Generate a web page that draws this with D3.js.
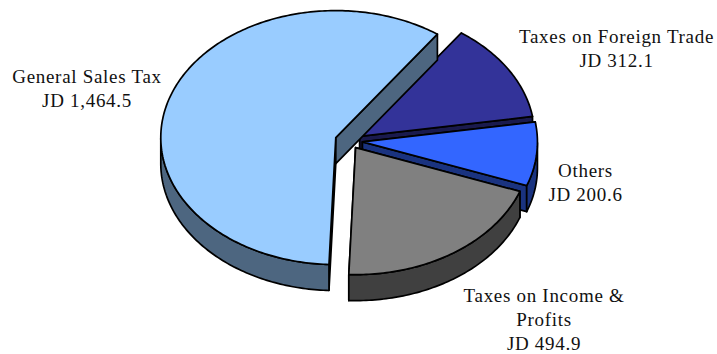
<!DOCTYPE html>
<html><head><meta charset="utf-8">
<style>html,body{margin:0;padding:0;background:#fff}svg{display:block}text{font-family:"Liberation Serif",serif;font-size:19px;letter-spacing:0.7px;fill:#111;text-anchor:middle}</style>
<script src="https://cdn.jsdelivr.net/npm/d3@7/dist/d3.min.js"></script>
</head><body><script>
const categories = ["Taxes on Foreign Trade","Others","Taxes on Income & Profits","General Sales Tax"];
const values = [312.1,200.6,494.9,1464.5];
const topColors = ["#333399","#3366FF","#808080","#99CCFF"];
const wallColors = ["#1A1A4D","#1A3380","#404040","#4D6680"];
const explode = [12,13,11,14.5];
const labelLines = [["Taxes on Foreign Trade"],["Others"],["Taxes on Income &","Profits"],["General Sales Tax"]];
const labelAnchors = [[616.5,43],[585.5,176.5],[544,301.5],[87,82.5]];

const W=717,H=354,cx=349.5,cy=141,rx=175,ry=127,depth=26,lineH=24;
const svg=d3.select("body").append("svg").attr("width",W).attr("height",H);
const pie=d3.pie().sort(null).startAngle(35.5*Math.PI/180).endAngle(395.5*Math.PI/180);
const arcs=pie(values);
const line=d3.line();
const fmt=d3.format(",.1f");
const closed=p=>line(p)+"Z";

arcs.forEach((a,i)=>{
  const mid=(a.startAngle+a.endAngle)/2;
  const ox=cx+explode[i]*Math.sin(mid), oy=cy-explode[i]*Math.cos(mid)*ry/rx;
  const pt=(t,d=0)=>[ox+rx*Math.sin(t), oy-ry*Math.cos(t)+d];
  const n=Math.ceil((a.endAngle-a.startAngle)*60);
  const ts=d3.range(n+1).map(k=>a.startAngle+(a.endAngle-a.startAngle)*k/n);
  const g=svg.append("g").attr("stroke","#000").attr("stroke-width",1.7).attr("stroke-linejoin","round");
  const wall=d=>g.append("path").attr("d",d).attr("fill",wallColors[i]);
  [a.startAngle,a.endAngle].forEach(t=>{
    wall(closed([[ox,oy],pt(t),pt(t,depth),[ox,oy+depth]]));
  });
  const PI=Math.PI;
  [[PI/2,3*PI/2],[PI/2+2*PI,3*PI/2+2*PI]].forEach(([lo,hi])=>{
    const f=ts.filter(t=>t>=lo&&t<=hi);
    if(f.length>1) wall(closed(f.map(t=>pt(t)).concat(f.slice().reverse().map(t=>pt(t,depth)))));
  });
  g.append("path").attr("d",closed([[ox,oy]].concat(ts.map(t=>pt(t))))).attr("fill",topColors[i]);
});

arcs.forEach((a,i)=>{
  const [x,y]=labelAnchors[i];
  const lines=labelLines[i].concat(["JD "+fmt(values[i])]);
  const t=svg.append("text").attr("x",x).attr("y",y);
  t.selectAll("tspan").data(lines).join("tspan").attr("x",x).attr("dy",(d,k)=>k?lineH:0).text(d=>d);
});
</script></body></html>
